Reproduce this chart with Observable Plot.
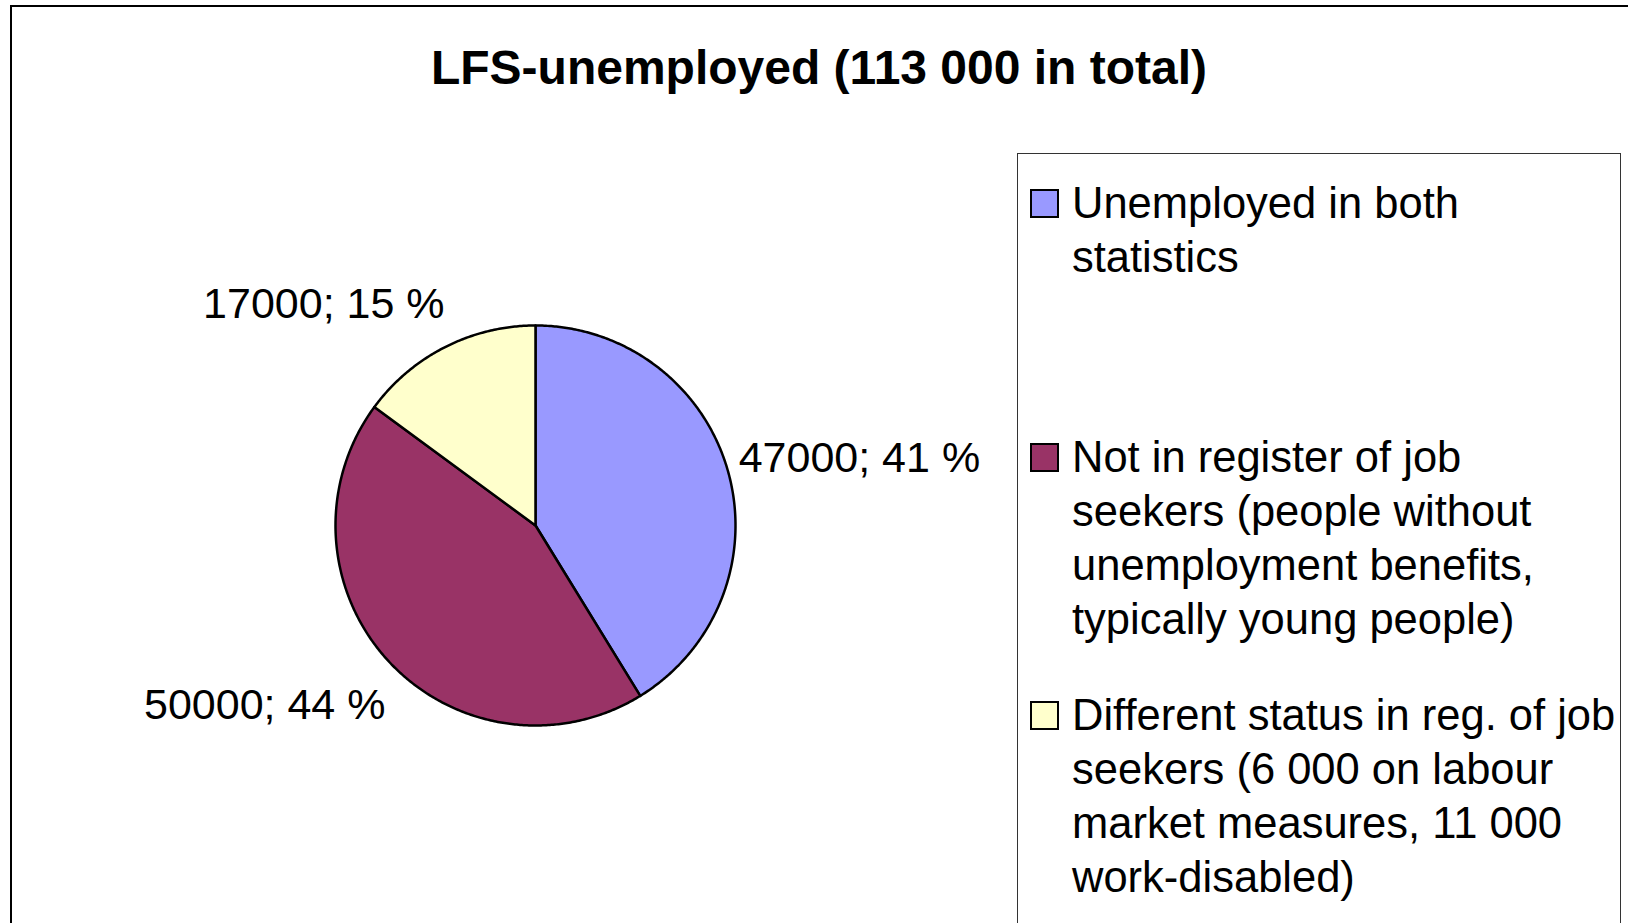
<!DOCTYPE html>
<html>
<head>
<meta charset="utf-8">
<script src="https://cdn.jsdelivr.net/npm/d3@7"></script>
<script src="https://cdn.jsdelivr.net/npm/@observablehq/plot@0.6"></script>
<style>
  html, body { margin: 0; padding: 0; background: #fff; overflow: hidden; }
  #wrap { position: relative; width: 1628px; height: 923px; font-family: "Liberation Sans", Arial, sans-serif; color: #000; }
  #frame { position: absolute; left: 10px; top: 5px; right: -10px; bottom: -10px; border-left: 2px solid #000; border-top: 2px solid #000; }
  #title { position: absolute; left: 0; width: 1638px; top: 44px; text-align: center; font-weight: bold; font-size: 48px; line-height: 48px; white-space: nowrap; }
  #chart { position: absolute; left: 0; top: 0; }
  #legend { position: absolute; left: 1017px; top: 153px; width: 604px; height: 800px; border: 1.5px solid #333; box-sizing: border-box; }
  .entry { position: absolute; left: 0; }
  .swatch { position: absolute; left: 12px; width: 25px; height: 25px; border: 2px solid #000; }
  .ltext { position: absolute; left: 54px; font-size: 43.5px; line-height: 54px; white-space: pre; }
</style>
</head>
<body>
<div id="wrap">
  <div id="chart"></div>
  <div id="frame"></div>
  <div id="title"></div>
  <div id="legend"></div>
</div>
<script>
const title = "LFS-unemployed (113 000 in total)";
const categories = [
  "Unemployed in both\nstatistics",
  "Not in register of job\nseekers (people without\nunemployment benefits,\ntypically young people)",
  "Different status in reg. of job\nseekers (6 000 on labour\nmarket measures, 11 000\nwork-disabled)"
];
const values = [47000, 50000, 17000];
const colors = ["#9999FF", "#993366", "#FFFFCC"];

// layout
const W = 1628, H = 923;
const cx = 535, cy = 525, r = 200;

const total = d3.sum(values);
const arcs = d3.pie().sort(null).value(d => d)(values);

// slice outlines in unit space (radius 1, y up, angle clockwise from 12 o'clock)
const slicePts = [];
arcs.forEach((a, i) => {
  slicePts.push({cat: categories[i], x: 0, y: 0});
  const n = Math.max(2, Math.ceil((a.endAngle - a.startAngle) / (Math.PI / 360)));
  for (let k = 0; k <= n; k++) {
    const t = a.startAngle + (a.endAngle - a.startAngle) * k / n;
    slicePts.push({cat: categories[i], x: Math.sin(t), y: Math.cos(t)});
  }
});

const labels = arcs.map((a, i) => {
  const m = (a.startAngle + a.endAngle) / 2;
  const dx = Math.sin(m), dy = Math.cos(m);
  return {
    text: `${values[i]}; ${Math.round(values[i] / total * 100)} %`,
    x: 1.04 * dx + 0.015,
    y: 1.24 * dy + (dy < 0 ? -0.057 : 0),
    right: dx >= 0
  };
});

const plot = Plot.plot({
  width: W,
  height: H,
  margin: 0,
  x: {domain: [-1, 1], range: [cx - r, cx + r], axis: null},
  y: {domain: [-1, 1], range: [cy + r, cy - r], axis: null},
  color: {domain: categories, range: colors},
  style: {background: "transparent", fontFamily: "Liberation Sans, Arial, sans-serif"},
  marks: [
    Plot.line(slicePts, {x: "x", y: "y", z: "cat", fill: "cat", stroke: "#000", strokeWidth: 2.5, curve: "linear-closed", strokeLinejoin: "round"}),
    Plot.text(labels.filter(d => d.right), {x: "x", y: "y", text: "text", textAnchor: "start", fontSize: 43, fill: "#000"}),
    Plot.text(labels.filter(d => !d.right), {x: "x", y: "y", text: "text", textAnchor: "end", fontSize: 43, fill: "#000"})
  ]
});
document.getElementById("chart").appendChild(plot);
document.getElementById("title").textContent = title;

// legend
const legend = document.getElementById("legend");
const entryTops = [22, 276, 534];
categories.forEach((c, i) => {
  const e = document.createElement("div");
  e.className = "entry";
  e.style.top = entryTops[i] + "px";
  const sw = document.createElement("div");
  sw.className = "swatch";
  sw.style.top = "13px";
  sw.style.background = colors[i];
  const tx = document.createElement("div");
  tx.className = "ltext";
  tx.style.top = "0px";
  tx.textContent = c;
  e.appendChild(sw);
  e.appendChild(tx);
  legend.appendChild(e);
});
</script>
</body>
</html>
